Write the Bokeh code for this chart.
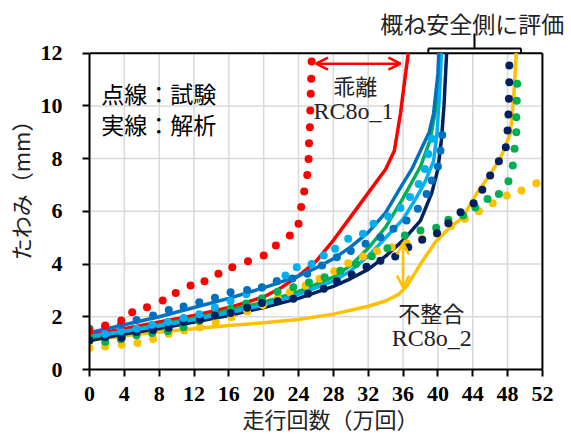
from bokeh.plotting import figure
from bokeh.embed import file_html
from bokeh.resources import INLINE
from bokeh.models import Range1d, FixedTicker, Label, Arrow, OpenHead

# ---- test data (dotted) ----
red_tx = [0, 1.8, 3.65, 4.9, 6.6, 8.4, 9.9, 11.6, 13.2, 14.8, 16.4, 18.2, 20.0, 21.4, 23.0, 24.0, 24.3, 24.65, 25.0, 25.15, 25.2, 25.3, 25.35, 25.4, 25.45, 25.5]
red_ty = [1.45, 1.67, 1.86, 2.17, 2.36, 2.62, 2.9, 3.19, 3.35, 3.63, 3.88, 4.11, 4.32, 4.7, 5.08, 5.53, 6.16, 6.75, 7.38, 7.99, 8.58, 9.19, 9.83, 10.46, 11.03, 11.68]

lblue_tx = [0, 1.8, 3.6, 5.4, 7.2, 9.0, 10.8, 12.6, 14.4, 16.2, 18.0, 19.8, 21.5, 22.5, 23.8, 25.5, 26.9, 28.2, 29.7, 31.4, 32.6, 34.3, 35.7, 36.8, 37.8, 38.5, 38.9, 39.3]
lblue_ty = [1.45, 1.35, 1.45, 1.55, 1.7, 1.8, 1.95, 2.1, 2.35, 2.6, 2.85, 3.1, 3.35, 3.57, 3.88, 4.0, 4.32, 4.58, 4.96, 5.15, 5.53, 5.8, 6.13, 6.54, 7.04, 7.61, 8.18, 8.75]

mblue_tx = [0, 1.8, 3.6, 5.4, 7.3, 9.1, 10.8, 12.6, 14.4, 16.2, 18.1, 19.8, 21.5, 23.3, 25.0, 26.7, 28.4, 30.0, 31.7, 33.4, 34.9, 36.4, 37.7, 38.7, 39.3, 40.0, 40.3, 40.5]
mblue_ty = [1.55, 1.63, 1.7, 1.88, 2.05, 2.26, 2.39, 2.55, 2.72, 2.93, 3.02, 3.12, 3.35, 3.45, 3.63, 3.95, 4.26, 4.5, 4.77, 5.02, 5.34, 5.65, 6.1, 6.66, 7.17, 7.7, 8.3, 8.9]

green_tx = [0, 1.8, 3.6, 5.4, 7.2, 9.0, 10.8, 12.6, 14.4, 16.2, 18.0, 19.8, 21.6, 23.4, 25.2, 27.0, 28.8, 30.6, 32.4, 34.2, 36.2, 38.0, 39.8, 41.2, 42.9, 44.3, 45.7, 47.0, 48.1, 48.6, 48.8, 49.0, 49.0, 49.05, 49.1]
green_ty = [1.25, 1.05, 1.15, 1.3, 1.38, 1.45, 1.6, 1.85, 2.05, 2.3, 2.5, 2.7, 2.95, 3.12, 3.3, 3.5, 3.75, 4.0, 4.3, 4.6, 5.08, 5.27, 5.38, 5.68, 5.84, 6.15, 6.47, 6.66, 7.14, 7.74, 8.37, 9.0, 9.57, 10.2, 10.84]

navy_tx = [0, 1.8, 3.7, 5.4, 7.3, 9.1, 10.8, 12.7, 14.4, 16.2, 18.1, 19.8, 21.6, 23.4, 25.1, 26.9, 28.4, 30.1, 31.8, 33.4, 35.1, 36.6, 38.2, 39.9, 41.2, 42.6, 44.1, 45.1, 46.0, 47.0, 47.8, 48.0, 48.1, 48.15, 48.2, 48.2]
navy_ty = [1.1, 1.23, 1.2, 1.42, 1.5, 1.58, 1.8, 1.89, 2.05, 2.14, 2.34, 2.52, 2.59, 2.68, 2.87, 3.06, 3.35, 3.6, 3.9, 4.13, 4.29, 4.64, 4.92, 5.17, 5.55, 5.97, 6.31, 6.82, 7.36, 7.9, 8.43, 9.07, 9.67, 10.27, 10.9, 11.53]

orange_tx = [0, 1.8, 3.7, 5.5, 7.3, 9.1, 10.9, 12.7, 14.5, 16.3, 18.1, 19.9, 21.6, 23.0, 24.8, 26.4, 28.1, 29.7, 31.4, 33.0, 34.7, 36.4, 38.2, 39.9, 41.5, 43.1, 44.7, 46.3, 47.9, 49.6, 51.3]
orange_ty = [0.82, 0.87, 0.94, 1.01, 1.16, 1.35, 1.48, 1.6, 1.78, 1.98, 2.2, 2.45, 2.7, 2.93, 3.19, 3.44, 3.73, 4.03, 4.29, 4.49, 4.64, 4.79, 4.95, 5.15, 5.45, 5.72, 6.0, 6.31, 6.6, 6.79, 7.07]

# ---- analysis data (solid) ----
red_ax = [0, 4, 8, 12, 16, 20, 22, 24, 26, 28, 30, 32, 34, 35, 35.7, 36.2, 36.6]
red_ay = [1.3, 1.55, 1.8, 2.05, 2.35, 2.75, 3.1, 3.55, 4.1, 4.9, 5.8, 6.7, 7.6, 8.3, 9.7, 11.0, 12.0]

mblue_ax = [0, 4, 8, 12, 16, 20, 24, 26, 28, 30, 32, 34, 35.7, 37, 38, 39, 39.5, 40, 40.1]
mblue_ay = [1.4, 1.7, 2.0, 2.35, 2.7, 3.1, 3.55, 3.85, 4.2, 4.65, 5.2, 5.95, 6.9, 7.6, 8.3, 9.0, 9.7, 11.2, 12.0]

lblue_ax = [0, 4, 8, 12, 16, 20, 24, 28, 30, 32, 34, 36, 37.5, 38.5, 39.5, 39.9, 40.2, 40.4]
lblue_ay = [1.25, 1.45, 1.65, 1.9, 2.15, 2.45, 2.85, 3.35, 3.75, 4.3, 5.0, 5.7, 6.5, 7.1, 7.9, 9.0, 10.5, 12.0]

green_ax = [0, 4, 8, 12, 16, 20, 24, 28, 30, 32, 34, 36, 38, 39.1, 39.7, 40.1, 40.3]
green_ay = [1.2, 1.45, 1.7, 1.95, 2.25, 2.55, 2.95, 3.5, 3.95, 4.6, 5.4, 6.5, 7.7, 8.7, 9.8, 11.0, 12.0]

navy_ax = [0, 4, 8, 12, 16, 20, 24, 28, 30, 32, 34, 36, 38, 39.3, 40, 40.4, 40.7, 41]
navy_ay = [1.1, 1.35, 1.55, 1.8, 2.05, 2.35, 2.7, 3.15, 3.45, 3.8, 4.3, 4.9, 5.65, 6.7, 7.6, 8.7, 10.0, 12.0]

orange_ax = [0, 4, 8, 12, 16, 20, 24, 28, 32, 34, 35.5, 36.5, 38, 39.7, 41.4, 42.8, 44.5, 46, 47.3, 48.3, 48.7, 49]
orange_ay = [1.1, 1.28, 1.42, 1.55, 1.67, 1.77, 1.9, 2.1, 2.4, 2.6, 2.85, 3.2, 4.0, 4.83, 5.4, 5.75, 6.7, 7.4, 8.1, 8.94, 10.3, 12.0]

x_ticks = list(range(0, 53, 4))
y_ticks = list(range(0, 13, 2))
X_MAX = 52
Y_MAX = 12

RED = "#FF0000"
LBLUE = "#00B0F0"
MBLUE = "#0070C0"
GREEN = "#00B050"
NAVY = "#002060"
ORANGE = "#FFC000"

W, H = 571, 441
LEFT, TOP, BOTTOM = 89, 0, 72
px_per_x = 8.71
px_per_y = 26.36
x_end = (W - LEFT) / px_per_x
y_end = (H - TOP - BOTTOM) / px_per_y

p = figure(width=W, height=H, output_backend="svg", toolbar_location=None,
           x_range=Range1d(0, x_end), y_range=Range1d(0, y_end),
           min_border_left=LEFT, min_border_right=0, min_border_top=TOP, min_border_bottom=BOTTOM)
p.background_fill_color = "white"
p.border_fill_color = "white"
p.outline_line_color = None
p.xgrid.visible = False
p.ygrid.visible = False

for ax in (p.xaxis[0], p.yaxis[0]):
    ax.axis_line_color = "black"
    ax.axis_line_width = 2
    ax.major_tick_line_color = "black"
    ax.major_tick_line_width = 2
    ax.major_tick_out = 7
    ax.major_tick_in = 0
    ax.minor_tick_line_color = None
    ax.major_label_text_font = "Liberation Serif"
    ax.major_label_text_font_style = "bold"
    ax.major_label_text_font_size = "22px"
    ax.major_label_text_color = "black"
    ax.axis_label_text_font = "Noto Sans CJK JP"
    ax.axis_label_text_font_style = "normal"
    ax.axis_label_text_font_size = "22px"
    ax.axis_label_text_color = "#222222"

p.xaxis[0].ticker = FixedTicker(ticks=x_ticks)
p.yaxis[0].ticker = FixedTicker(ticks=y_ticks)
p.xaxis[0].bounds = (0, X_MAX)
p.yaxis[0].bounds = (0, Y_MAX)
p.xaxis[0].major_label_standoff = 10
p.yaxis[0].major_label_standoff = 20
p.xaxis[0].axis_label = "走行回数（万回）"
p.yaxis[0].axis_label = "たわみ（mm）"
p.xaxis[0].axis_label_standoff = -2
p.yaxis[0].axis_label_standoff = 2

# grid lines and frame box (drawn as glyphs so the area above can hold annotations)
p.segment(x0=x_ticks, y0=[0] * len(x_ticks), x1=x_ticks, y1=[Y_MAX] * len(x_ticks),
          line_color="#D9D9D9", line_width=1.5)
p.segment(x0=[0] * len(y_ticks), y0=y_ticks, x1=[X_MAX] * len(y_ticks), y1=y_ticks,
          line_color="#D9D9D9", line_width=1.5)
p.line([0, X_MAX], [Y_MAX, Y_MAX], line_color="black", line_width=2)
p.line([X_MAX, X_MAX], [0, Y_MAX], line_color="black", line_width=2)

# analysis lines
for xs, ys, c in [(orange_ax, orange_ay, ORANGE), (red_ax, red_ay, RED),
                  (navy_ax, navy_ay, NAVY), (green_ax, green_ay, GREEN),
                  (lblue_ax, lblue_ay, LBLUE), (mblue_ax, mblue_ay, MBLUE)]:
    p.line(xs, ys, line_color=c, line_width=3.5)

# test dots
for xs, ys, c in [(orange_tx, orange_ty, ORANGE), (green_tx, green_ty, GREEN),
                  (navy_tx, navy_ty, NAVY), (lblue_tx, lblue_ty, LBLUE),
                  (mblue_tx, mblue_ty, MBLUE), (red_tx, red_ty, RED)]:
    p.scatter(xs, ys, size=8, fill_color=c, line_color=None)

# annotations
JP = "Noto Sans CJK JP"
SERIF = "Liberation Serif"
p.add_layout(Label(x=1.35, y=10.5, text="点線：試験", text_font=JP, text_font_size="23px",
                   text_baseline="middle", text_color="black"))
p.add_layout(Label(x=1.35, y=9.33, text="実線：解析", text_font=JP, text_font_size="23px",
                   text_baseline="middle", text_color="black"))
p.add_layout(Label(x=30.5, y=10.81, text="乖離", text_font=JP, text_font_size="22px",
                   text_align="center", text_baseline="middle", text_color="#222222"))
p.add_layout(Label(x=30.3, y=9.79, text="RC8o_1", text_font=SERIF, text_font_size="24px",
                   text_align="center", text_baseline="middle", text_color="#222222"))
p.add_layout(Label(x=39.25, y=2.2, text="不整合", text_font=JP, text_font_size="22px",
                   text_align="center", text_baseline="middle", text_color="#222222"))
p.add_layout(Label(x=39.3, y=1.21, text="RC8o_2", text_font=SERIF, text_font_size="24px",
                   text_align="center", text_baseline="middle", text_color="#222222"))
p.add_layout(Label(x=43.94, y=13.16, text="概ね安全側に評価", text_font=JP, text_font_size="23px",
                   text_align="center", text_baseline="middle", text_color="#222222"))

# arrows
p.add_layout(Arrow(x_start=26.0, y_start=11.6, x_end=35.7, y_end=11.6,
                   start=OpenHead(size=12, line_color=RED, line_width=2.5),
                   end=OpenHead(size=12, line_color=RED, line_width=2.5),
                   line_color=RED, line_width=2.5))
p.add_layout(Arrow(x_start=36.0, y_start=4.82, x_end=36.0, y_end=3.11,
                   start=OpenHead(size=12, line_color=ORANGE, line_width=2.5),
                   end=OpenHead(size=12, line_color=ORANGE, line_width=2.5),
                   line_color=ORANGE, line_width=2.5))

# bracket
bx0 = [38.9, 38.9, 49.55, 44.2]
by0 = [12.0, 12.18, 12.18, 12.18]
bx1 = [38.9, 49.55, 49.55, 44.2]
by1 = [12.18, 12.18, 12.0, 12.75]
p.segment(x0=bx0, y0=by0, x1=bx1, y1=by1, line_color="black", line_width=2)

open("out.html", "w").write(file_html(p, INLINE))
